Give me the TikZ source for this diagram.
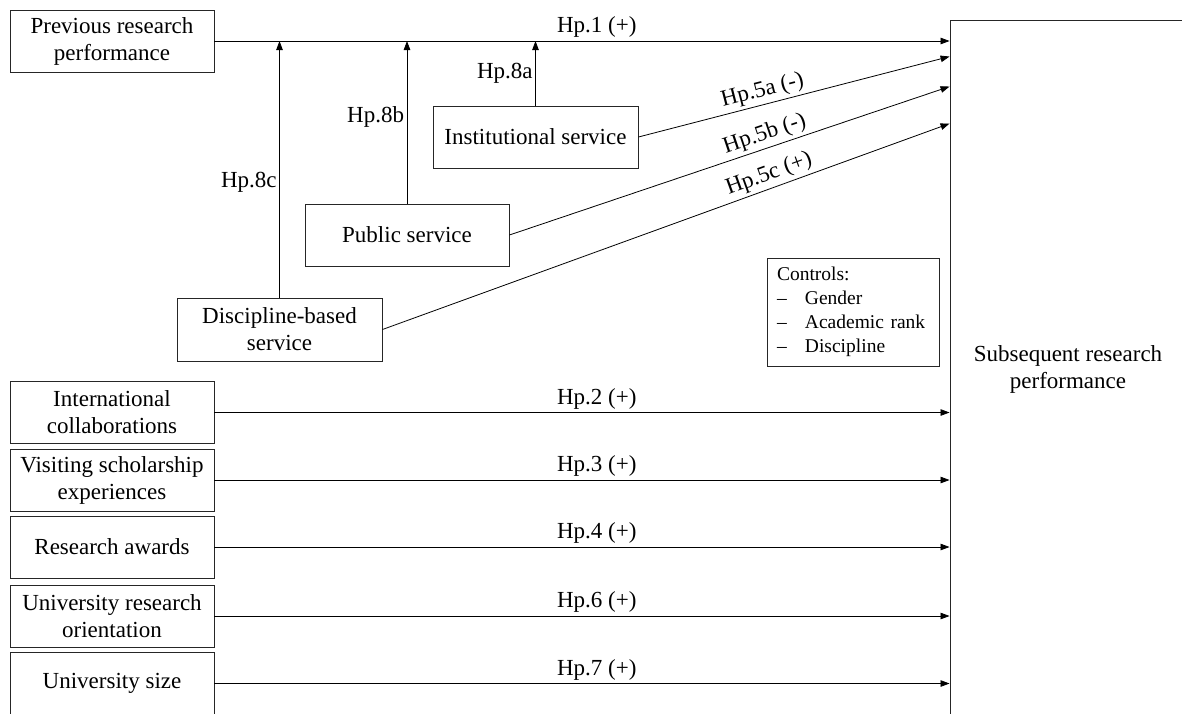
\documentclass[tikz,border=0pt]{standalone}
\usepackage{fontspec}
\setmainfont{Liberation Serif}
\usetikzlibrary{arrows.meta}
\begin{document}
\begin{tikzpicture}[x=1pt,y=-1pt,
  box/.style={draw=black!85, line width=0.9pt, align=center, minimum width=204pt, minimum height=62pt, inner sep=0pt, font=\fontsize{23}{27}\selectfont},
  arr/.style={line width=0.8pt, -{Triangle[length=9pt,width=6.5pt]}},
  lbl/.style={font=\fontsize{23}{27}\selectfont, inner sep=3pt},
  vlbl/.style={font=\fontsize{23}{27}\selectfont, inner sep=2.5pt}]
\useasboundingbox (0,0) rectangle (1182,713);

\node[box] (prev) at (112,41) {Previous research\\performance};
\node[box] (intl) at (112,412.5) {International\\collaborations};
\node[box] (visit) at (112,480) {Visiting scholarship\\experiences};
\node[box] (award) at (112,547) {Research awards};
\node[box] (uro) at (112,616) {University research\\orientation};
\node[box, minimum height=63pt] (usize) at (112,683.5) {University size};
\node[box, minimum width=205pt] (inst) at (535.5,137) {Institutional service};
\node[box] (pub) at (407,235) {Public service};
\node[box, minimum width=205pt, minimum height=63pt] (disc) at (279.5,329.5) {Discipline-based\\service};
\node[box, minimum width=236pt, minimum height=698pt] (out) at (1068,369) {Subsequent research\\performance};

\node[draw=black!85, line width=0.9pt, minimum width=172pt, minimum height=108pt, text width=152pt, inner xsep=10pt, inner ysep=0pt, align=left, font=\fontsize{19.5}{24}\selectfont] (ctrl) at (853,312)
  {Controls:\\\makebox[28pt][l]{–}Gender\\\makebox[28pt][l]{–}Academic rank\\\makebox[28pt][l]{–}Discipline};

\path (out.north west) ++(0,37) coordinate (t5a);
\path (out.north west) ++(0,67) coordinate (t5b);
\path (out.north west) ++(0,104) coordinate (t5c);

\draw[arr] (prev.east) -- (prev.east -| out.west) node[lbl, above, pos=0.52] {Hp.1 (+)};
\draw[arr] (intl.east) -- (intl.east -| out.west) node[lbl, above, pos=0.52] {Hp.2 (+)};
\draw[arr] (visit.east) -- (visit.east -| out.west) node[lbl, above, pos=0.52] {Hp.3 (+)};
\draw[arr] (award.east) -- (award.east -| out.west) node[lbl, above, pos=0.52] {Hp.4 (+)};
\draw[arr] (uro.east) -- (uro.east -| out.west) node[lbl, above, pos=0.52] {Hp.6 (+)};
\draw[arr] (usize.east) -- (usize.east -| out.west) node[lbl, above, pos=0.52] {Hp.7 (+)};

\draw[arr] (inst.north) -- (inst.north |- prev.east) node[vlbl, left, pos=0.5] {Hp.8a};
\draw[arr] (pub.north) -- (pub.north |- prev.east) node[vlbl, left, pos=0.53] {Hp.8b};
\draw[arr] (disc.north) -- (disc.north |- prev.east) node[vlbl, left, pos=0.45] {Hp.8c};

\draw[arr] (inst.east) -- (t5a) node[lbl, above, sloped, pos=0.41] {Hp.5a (-)};
\draw[arr] (pub.east) -- (t5b) node[lbl, above, sloped, pos=0.59] {Hp.5b (-)};
\draw[arr] (disc.east) -- (t5c) node[lbl, above, sloped, pos=0.69] {Hp.5c (+)};
\end{tikzpicture}
\end{document}
